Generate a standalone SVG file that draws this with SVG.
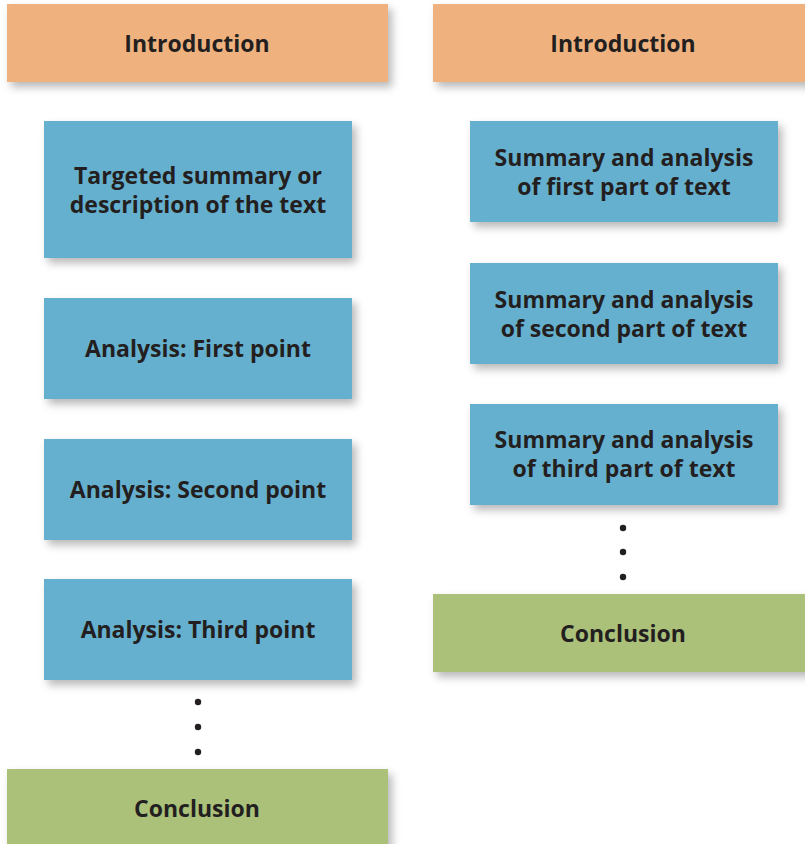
<svg xmlns="http://www.w3.org/2000/svg" width="805" height="844" viewBox="0 0 805 844">
  <defs>
    <filter id="shadow" x="-10%" y="-20%" width="130%" height="160%">
      <feGaussianBlur in="SourceAlpha" stdDeviation="4"/>
      <feOffset dx="4" dy="5" result="blur"/>
      <feFlood flood-color="#000" flood-opacity="0.28"/>
      <feComposite in2="blur" operator="in"/>
      <feMerge>
        <feMergeNode/>
        <feMergeNode in="SourceGraphic"/>
      </feMerge>
    </filter>
  </defs>
  <style>
    .box { filter: url(#shadow); }
    .intro { fill: #EFB27E; }
    .body { fill: #66B0CF; }
    .concl { fill: #ABC17A; }
    .lbl { font-family: "Open Sans", "Noto Sans", "Liberation Sans", sans-serif; font-weight: 700; font-size: 23px; fill: #231F20; text-anchor: middle; }
    .dot { fill: #231F20; }
  </style>
  <rect width="805" height="844" fill="#ffffff"/>

  <!-- Left column -->
  <g id="left-intro">
    <rect class="box intro" x="7" y="4" width="381" height="78"/>
    <text class="lbl" x="197" y="52">Introduction</text>
  </g>
  <g id="left-summary">
    <rect class="box body" x="44" y="121" width="308" height="137"/>
    <text class="lbl" x="198" y="184">Targeted summary or</text>
    <text class="lbl" x="198" y="213">description of the text</text>
  </g>
  <g id="left-first">
    <rect class="box body" x="44" y="298" width="308" height="101"/>
    <text class="lbl" x="198" y="357">Analysis: First point</text>
  </g>
  <g id="left-second">
    <rect class="box body" x="44" y="439" width="308" height="101"/>
    <text class="lbl" x="198" y="498">Analysis: Second point</text>
  </g>
  <g id="left-third">
    <rect class="box body" x="44" y="579" width="308" height="101"/>
    <text class="lbl" x="198" y="638">Analysis: Third point</text>
  </g>
  <g id="left-conclusion">
    <rect class="box concl" x="7" y="769" width="381" height="80"/>
    <text class="lbl" x="197" y="817">Conclusion</text>
  </g>

  <!-- Right column -->
  <g id="right-intro">
    <rect class="box intro" x="433" y="4" width="380" height="78"/>
    <text class="lbl" x="623" y="52">Introduction</text>
  </g>
  <g id="right-first">
    <rect class="box body" x="470" y="121" width="308" height="101"/>
    <text class="lbl" x="624" y="166">Summary and analysis</text>
    <text class="lbl" x="624" y="195">of first part of text</text>
  </g>
  <g id="right-second">
    <rect class="box body" x="470" y="263" width="308" height="101"/>
    <text class="lbl" x="624" y="308">Summary and analysis</text>
    <text class="lbl" x="624" y="337">of second part of text</text>
  </g>
  <g id="right-third">
    <rect class="box body" x="470" y="404" width="308" height="101"/>
    <text class="lbl" x="624" y="448">Summary and analysis</text>
    <text class="lbl" x="624" y="477">of third part of text</text>
  </g>
  <g id="right-conclusion">
    <rect class="box concl" x="433" y="594" width="380" height="78"/>
    <text class="lbl" x="623" y="642">Conclusion</text>
  </g>

  <!-- Continuation dots -->
  <g id="connectors">
    <circle class="dot" cx="198" cy="702" r="3.2"/>
    <circle class="dot" cx="198" cy="727" r="3.2"/>
    <circle class="dot" cx="198" cy="752" r="3.2"/>
    <circle class="dot" cx="623" cy="528" r="3.2"/>
    <circle class="dot" cx="623" cy="552" r="3.2"/>
    <circle class="dot" cx="623" cy="577" r="3.2"/>
  </g>
</svg>
